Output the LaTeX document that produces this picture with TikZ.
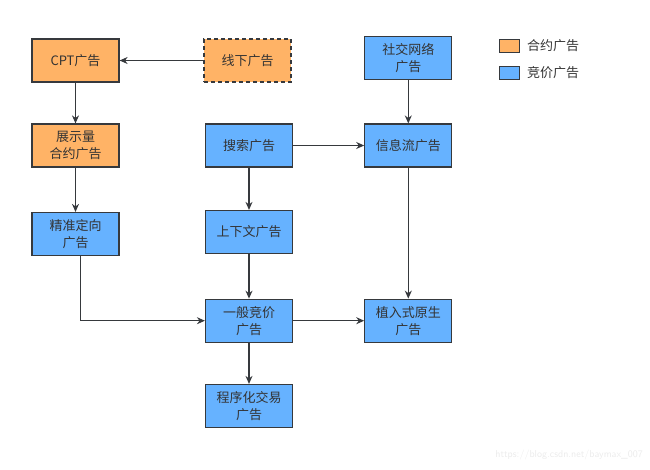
\documentclass[tikz,border=0pt]{standalone}
\usepackage{fontspec}
\newfontfamily\cjk{Noto Sans CJK SC}
\usetikzlibrary{arrows.meta}
\definecolor{orangefill}{HTML}{FFB366}
\definecolor{bluefill}{HTML}{66B2FF}
\definecolor{edgecol}{HTML}{36393D}
\definecolor{txtcol}{HTML}{333333}
\tikzset{
  box/.style={draw=edgecol, line width=1.2pt, minimum width=87pt, minimum height=43pt,
    inner sep=1pt, align=center, text=txtcol, font=\cjk\fontsize{13}{17}\selectfont},
  obox/.style={box, fill=orangefill},
  bbox/.style={box, fill=bluefill},
  conn/.style={draw=edgecol, line width=1.2pt, -{Stealth[length=8pt,width=7pt]}},
  legsq/.style={draw=edgecol, line width=1.1pt, minimum width=20pt, minimum height=13.5pt, inner sep=0pt},
  legtxt/.style={anchor=west, text=txtcol, font=\cjk\fontsize{13}{15}\selectfont, inner sep=0pt}
}
\begin{document}
\begin{tikzpicture}[x=1pt,y=-1pt]
\useasboundingbox (0,0) rectangle (650,469);
\node[obox] (cpt) at (75.5,60.5) {CPT广告};
\node[obox, dashed, dash pattern=on 4pt off 3pt] (offline) at (247.5,60.5) {线下广告};
\node[obox] (show) at (75.5,145.5) {展示量\\合约广告};
\node[bbox] (target) at (75.5,234) {精准定向\\广告};
\node[bbox] (search) at (249,145.5) {搜索广告};
\node[bbox] (context) at (249,232) {上下文广告};
\node[bbox] (general) at (249,320.7) {一般竞价\\广告};
\node[bbox] (program) at (249,406) {程序化交易\\广告};
\node[bbox] (social) at (408.3,58) {社交网络\\广告};
\node[bbox] (feed) at (408.3,145.5) {信息流广告};
\node[bbox] (native) at (408.3,320.7) {植入式原生\\广告};
% legend
\node[legsq, fill=orangefill] (lego) at (509.3,46) {};
\node[legtxt] (legot) at (527,46) {合约广告};
\node[legsq, fill=bluefill] (legb) at (509.3,73) {};
\node[legtxt] (legbt) at (527,73) {竞价广告};
% connectors
\draw[conn] (offline) -- (cpt);
\draw[conn] (cpt) -- (show);
\draw[conn] (show) -- (target);
\draw[conn] (search) -- (context);
\draw[conn] (search) -- (feed);
\draw[conn] (social) -- (feed);
\draw[conn] (feed) -- (native);
\draw[conn] (context) -- (general);
\draw[conn] (target.south -| 80.3,0) |- (general.west);
\draw[conn] (general) -- (native);
\draw[conn] (general) -- (program);
% watermark
\node[text=black!8, font=\sffamily\fontsize{10}{12}\selectfont, anchor=east, inner sep=0pt] (wm) at (643,455) {https://blog.csdn.net/baymax\_007};
\end{tikzpicture}
\end{document}
